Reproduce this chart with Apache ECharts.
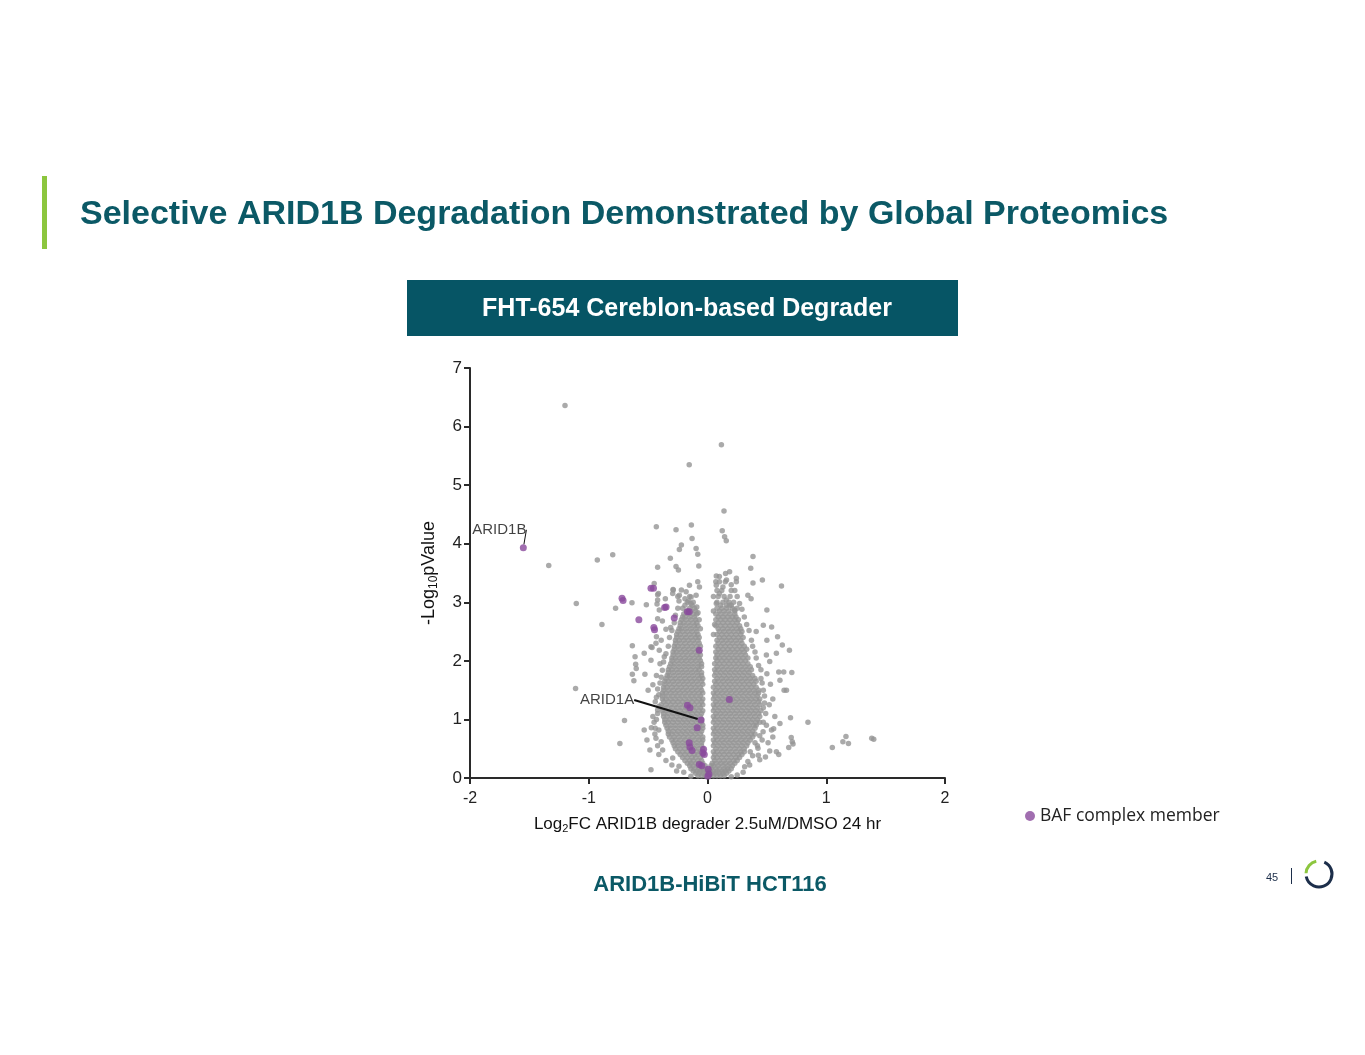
<!DOCTYPE html>
<html>
<head>
<meta charset="utf-8">
<title>Selective ARID1B Degradation</title>
<script src="https://cdn.jsdelivr.net/npm/echarts@6/dist/echarts.min.js"></script>
<style>
  html, body { margin: 0; padding: 0; background: #fff; }
  #main { width: 1365px; height: 1055px; }
</style>
</head>
<body>
<div id="main"></div>
<script>
// dense part of the volcano, read row by row: [y, x, x, ...]
var coreLeft = [
  [0.04, -0.08,-0.05,-0.02,0.00],
  [0.08, -0.10,-0.07,-0.04,-0.01],
  [0.12, -0.12,-0.09,-0.06,-0.03,0.00],
  [0.16, -0.14,-0.11,-0.07,-0.04,-0.01],
  [0.21, -0.15,-0.12,-0.08,-0.05,-0.02],
  [0.25, -0.17,-0.14,-0.10,-0.07,-0.04],
  [0.30, -0.19,-0.15,-0.12,-0.08,-0.05],
  [0.35, -0.21,-0.17,-0.13,-0.10,-0.06],
  [0.40, -0.23,-0.19,-0.15,-0.11,-0.08,-0.04],
  [0.45, -0.25,-0.21,-0.17,-0.13,-0.09,-0.06],
  [0.50, -0.27,-0.23,-0.19,-0.15,-0.11,-0.07,-0.04],
  [0.55, -0.28,-0.25,-0.21,-0.17,-0.13,-0.09,-0.05],
  [0.60, -0.29,-0.25,-0.21,-0.17,-0.13,-0.09,-0.05],
  [0.65, -0.30,-0.27,-0.23,-0.19,-0.15,-0.11,-0.07,-0.04],
  [0.70, -0.32,-0.28,-0.24,-0.20,-0.16,-0.12,-0.08,-0.04],
  [0.75, -0.33,-0.30,-0.26,-0.22,-0.18,-0.14,-0.10,-0.06],
  [0.80, -0.33,-0.29,-0.25,-0.21,-0.17,-0.13,-0.09,-0.05],
  [0.85, -0.34,-0.31,-0.27,-0.23,-0.19,-0.15,-0.11,-0.07,-0.04],
  [0.90, -0.35,-0.31,-0.27,-0.23,-0.19,-0.15,-0.11,-0.07,-0.04],
  [0.95, -0.36,-0.33,-0.29,-0.25,-0.21,-0.17,-0.13,-0.09,-0.05],
  [1.00, -0.36,-0.32,-0.28,-0.24,-0.20,-0.16,-0.12,-0.08,-0.05],
  [1.05, -0.37,-0.34,-0.30,-0.26,-0.22,-0.18,-0.14,-0.10,-0.06],
  [1.10, -0.37,-0.33,-0.29,-0.25,-0.21,-0.17,-0.13,-0.09,-0.05],
  [1.15, -0.38,-0.35,-0.31,-0.27,-0.23,-0.19,-0.15,-0.11,-0.07,-0.04],
  [1.20, -0.38,-0.34,-0.30,-0.26,-0.22,-0.18,-0.14,-0.10,-0.06],
  [1.25, -0.39,-0.35,-0.31,-0.27,-0.23,-0.19,-0.15,-0.11,-0.07,-0.04],
  [1.30, -0.37,-0.33,-0.29,-0.25,-0.21,-0.17,-0.13,-0.09,-0.05],
  [1.35, -0.38,-0.35,-0.31,-0.27,-0.23,-0.19,-0.15,-0.11,-0.07,-0.04],
  [1.40, -0.38,-0.34,-0.30,-0.26,-0.22,-0.18,-0.14,-0.10,-0.06],
  [1.45, -0.38,-0.35,-0.31,-0.27,-0.23,-0.19,-0.15,-0.11,-0.07,-0.04],
  [1.50, -0.37,-0.33,-0.29,-0.25,-0.21,-0.17,-0.13,-0.09,-0.05],
  [1.55, -0.37,-0.34,-0.30,-0.26,-0.22,-0.18,-0.14,-0.10,-0.06],
  [1.60, -0.36,-0.32,-0.28,-0.24,-0.20,-0.16,-0.12,-0.08,-0.04],
  [1.65, -0.36,-0.33,-0.29,-0.25,-0.21,-0.17,-0.13,-0.09,-0.05],
  [1.70, -0.35,-0.31,-0.27,-0.23,-0.19,-0.15,-0.11,-0.07,-0.04],
  [1.75, -0.34,-0.32,-0.28,-0.24,-0.20,-0.16,-0.12,-0.08,-0.05],
  [1.80, -0.33,-0.29,-0.25,-0.21,-0.17,-0.13,-0.09,-0.05],
  [1.85, -0.33,-0.30,-0.26,-0.22,-0.18,-0.14,-0.10,-0.07],
  [1.90, -0.32,-0.28,-0.24,-0.20,-0.16,-0.12,-0.08,-0.05],
  [1.95, -0.31,-0.28,-0.24,-0.20,-0.16,-0.12,-0.08,-0.05],
  [2.00, -0.30,-0.26,-0.22,-0.18,-0.14,-0.10,-0.06],
  [2.05, -0.30,-0.27,-0.23,-0.19,-0.15,-0.11,-0.07],
  [2.10, -0.29,-0.25,-0.21,-0.17,-0.13,-0.09,-0.06],
  [2.15, -0.29,-0.26,-0.22,-0.18,-0.14,-0.10,-0.07],
  [2.20, -0.28,-0.24,-0.20,-0.16,-0.12,-0.08],
  [2.25, -0.28,-0.25,-0.21,-0.17,-0.13,-0.09,-0.06],
  [2.30, -0.27,-0.23,-0.19,-0.15,-0.11,-0.07],
  [2.35, -0.27,-0.24,-0.20,-0.16,-0.12,-0.08],
  [2.40, -0.26,-0.22,-0.18,-0.14,-0.10,-0.07],
  [2.45, -0.26,-0.23,-0.19,-0.15,-0.11,-0.08],
  [2.50, -0.25,-0.21,-0.17,-0.13,-0.09],
  [2.55, -0.24,-0.22,-0.18,-0.14,-0.10],
  [2.60, -0.23,-0.19,-0.15,-0.11,-0.08],
  [2.65, -0.23,-0.20,-0.16,-0.12,-0.09],
  [2.70, -0.22,-0.18,-0.14,-0.10],
  [2.75, -0.21,-0.19,-0.15,-0.11],
  [2.80, -0.20,-0.16,-0.12,-0.09],
  [2.85, -0.18,-0.14,-0.10],
  [2.90, -0.21,-0.15,-0.11],
  [2.95, -0.19,-0.13],
  [3.00, -0.17,-0.12],
  [3.10, -0.25,-0.15]
];
var coreRight = [
  [0.04, 0.02,0.05,0.08,0.11,0.14],
  [0.08, 0.01,0.04,0.07,0.10,0.13,0.16],
  [0.12, 0.02,0.05,0.08,0.12,0.15,0.18],
  [0.16, 0.03,0.07,0.10,0.14,0.17,0.20],
  [0.21, 0.03,0.05,0.09,0.13,0.17,0.21],
  [0.25, 0.04,0.07,0.11,0.15,0.19,0.23],
  [0.30, 0.06,0.10,0.14,0.18,0.22,0.25],
  [0.35, 0.05,0.08,0.12,0.16,0.20,0.24,0.27],
  [0.40, 0.06,0.10,0.14,0.18,0.22,0.26,0.29],
  [0.45, 0.05,0.08,0.12,0.16,0.20,0.24,0.28,0.31],
  [0.50, 0.07,0.11,0.15,0.19,0.23,0.27,0.31],
  [0.55, 0.05,0.09,0.13,0.17,0.21,0.25,0.29,0.33],
  [0.60, 0.06,0.10,0.14,0.18,0.22,0.26,0.30,0.34],
  [0.65, 0.05,0.08,0.12,0.16,0.20,0.24,0.28,0.32,0.36],
  [0.70, 0.07,0.11,0.15,0.19,0.23,0.27,0.31,0.35,0.38],
  [0.75, 0.05,0.09,0.13,0.17,0.21,0.25,0.29,0.33,0.37,0.40],
  [0.80, 0.06,0.10,0.14,0.18,0.22,0.26,0.30,0.34,0.38],
  [0.85, 0.05,0.08,0.12,0.16,0.20,0.24,0.28,0.32,0.36,0.40],
  [0.90, 0.07,0.11,0.15,0.19,0.23,0.27,0.31,0.35,0.39,0.41],
  [0.95, 0.05,0.09,0.13,0.17,0.21,0.25,0.29,0.33,0.37,0.41,0.44],
  [1.00, 0.06,0.10,0.14,0.18,0.22,0.26,0.30,0.34,0.38,0.42],
  [1.05, 0.05,0.08,0.12,0.16,0.20,0.24,0.28,0.32,0.36,0.40,0.44],
  [1.10, 0.07,0.11,0.15,0.19,0.23,0.27,0.31,0.35,0.39,0.43],
  [1.15, 0.05,0.09,0.13,0.17,0.21,0.25,0.29,0.33,0.37,0.41,0.45],
  [1.20, 0.06,0.10,0.14,0.18,0.22,0.26,0.30,0.34,0.38,0.42],
  [1.25, 0.05,0.08,0.12,0.16,0.20,0.24,0.28,0.32,0.36,0.40,0.44],
  [1.30, 0.07,0.11,0.15,0.19,0.23,0.27,0.31,0.35,0.39,0.43],
  [1.35, 0.05,0.09,0.13,0.17,0.21,0.25,0.29,0.33,0.37,0.41,0.44],
  [1.40, 0.06,0.10,0.14,0.18,0.22,0.26,0.30,0.34,0.38,0.42],
  [1.45, 0.05,0.08,0.12,0.16,0.20,0.24,0.28,0.32,0.36,0.40,0.43],
  [1.50, 0.07,0.11,0.15,0.19,0.23,0.27,0.31,0.35,0.39,0.43],
  [1.55, 0.05,0.09,0.13,0.17,0.21,0.25,0.29,0.33,0.37,0.41],
  [1.60, 0.07,0.11,0.15,0.19,0.23,0.27,0.31,0.35,0.39],
  [1.65, 0.06,0.09,0.13,0.17,0.21,0.25,0.29,0.33,0.37,0.41],
  [1.70, 0.08,0.12,0.16,0.20,0.24,0.28,0.32,0.36,0.40],
  [1.75, 0.06,0.10,0.14,0.18,0.22,0.26,0.30,0.34,0.38],
  [1.80, 0.07,0.11,0.15,0.19,0.23,0.27,0.31,0.35],
  [1.85, 0.06,0.09,0.13,0.17,0.21,0.25,0.29,0.33,0.37],
  [1.90, 0.08,0.12,0.16,0.20,0.24,0.28,0.32,0.36],
  [1.95, 0.06,0.10,0.14,0.18,0.22,0.26,0.30,0.34],
  [2.00, 0.08,0.12,0.16,0.20,0.24,0.28,0.32],
  [2.05, 0.07,0.10,0.14,0.18,0.22,0.26,0.30,0.34],
  [2.10, 0.08,0.12,0.16,0.20,0.24,0.28,0.32],
  [2.15, 0.07,0.11,0.15,0.19,0.23,0.27,0.31],
  [2.20, 0.09,0.13,0.17,0.21,0.25,0.29,0.33],
  [2.25, 0.07,0.11,0.15,0.19,0.23,0.27,0.31],
  [2.30, 0.09,0.13,0.17,0.21,0.25,0.29],
  [2.35, 0.08,0.12,0.16,0.20,0.24,0.28],
  [2.40, 0.10,0.14,0.18,0.22,0.26,0.30],
  [2.45, 0.08,0.12,0.16,0.20,0.24,0.28],
  [2.50, 0.10,0.14,0.18,0.22,0.26,0.29],
  [2.55, 0.09,0.13,0.17,0.21,0.25,0.28],
  [2.60, 0.07,0.11,0.15,0.19,0.23,0.27],
  [2.65, 0.09,0.13,0.17,0.21,0.25],
  [2.70, 0.07,0.11,0.15,0.19,0.23,0.26],
  [2.75, 0.09,0.13,0.17,0.21,0.24],
  [2.80, 0.07,0.11,0.15,0.19,0.23],
  [2.85, 0.10,0.14,0.18,0.23],
  [2.90, 0.08,0.12,0.16,0.21,0.25],
  [2.95, 0.11,0.16,0.20],
  [3.00, 0.08,0.13,0.18,0.22],
  [3.10, 0.09,0.14,0.19],
  [3.20, 0.08,0.12,0.20],
  [3.35, 0.07,0.10,0.15]
];

// scattered proteins outside the dense core: [log2FC, -log10 p]
var sparsePoints = [
  [-1.20,6.36],[0.117,5.69],[-0.154,5.35],[0.139,4.56],
  [-1.337,3.63],[-0.928,3.72],[-0.798,3.81],[-1.105,2.98],[-0.889,2.62],[-1.111,1.53],
  [-0.699,0.98],[-0.738,0.59],[-0.476,0.14],
  [-0.431,4.29],[-0.136,4.32],[-0.265,4.24],[0.124,4.22],[0.144,4.12],[0.158,4.05],[-0.13,4.09],
  [-0.22,3.98],[-0.237,3.90],[-0.096,3.92],[-0.082,3.82],[-0.313,3.75],[-0.42,3.60],
  [-0.265,3.61],[-0.245,3.55],[-0.073,3.62],
  [0.383,3.78],[0.364,3.58],[0.462,3.38],[0.623,3.28],[0.383,3.33],[0.074,3.45],[0.10,3.44],
  [0.152,3.49],[0.186,3.52],[0.243,3.41],[0.243,3.35],[0.074,3.29],[0.13,3.26],
  [0.10,3.15],[0.158,3.04],[0.186,2.95],[0.074,2.98],[0.228,2.87],[0.34,3.12],[0.367,3.06],
  [0.50,2.87],[0.47,2.61],[0.54,2.58],[0.41,2.50],[0.50,2.35],[0.59,2.41],[0.69,2.18],
  [0.58,2.13],[0.63,2.27],[0.496,2.10],[0.524,1.99],[0.60,1.81],[0.71,1.80],[0.642,1.81],
  [0.645,1.50],[0.61,1.67],[0.665,1.50],[0.699,1.03],[0.846,0.95],[0.567,1.05],[0.496,0.90],
  [0.61,0.93],[0.705,0.69],[0.714,0.62],[0.72,0.58],[0.684,0.52],[0.557,0.84],[0.524,0.46],
  [0.428,0.39],[0.488,0.36],[0.60,0.40],[0.425,0.51],[0.58,0.45],[0.468,0.79],[0.539,0.82],
  [0.313,0.19],[0.355,0.22],[0.44,0.31],
  [1.051,0.52],[1.14,0.62],[1.166,0.71],[1.187,0.59],[1.383,0.68],[1.40,0.66],
  [-0.633,1.77],[-0.62,1.66],[-0.605,1.94],[-0.527,1.77],[-0.61,2.07],[-0.633,2.26],
  [-0.467,2.23],[-0.425,2.97],[-0.515,2.96],[-0.636,2.99],[-0.774,2.90],[-0.355,3.06],
  [-0.413,3.15],[-0.289,3.21],[-0.449,3.32],
  [-0.51,0.65],[-0.443,0.75],[-0.485,0.48],[-0.473,0.86],[-0.46,1.59],[-0.50,1.50],
  [-0.533,0.82],[-0.378,0.48],[-0.293,0.34],[-0.434,0.68],[-0.39,0.62],[-0.46,1.05],[-0.42,1.16],
  [-0.42,3.04],[-0.42,3.13],[-0.35,2.54],[-0.31,2.57],[-0.29,3.22],[-0.22,3.21],
  [-0.42,2.72],[-0.38,2.68],[-0.43,2.41],[-0.39,2.35],[-0.533,2.13],[-0.476,2.24],
  [-0.60,1.87],[-0.476,2.01],[-0.434,2.30],[-0.406,2.18],[-0.364,2.07],
  [-0.082,3.35],[-0.152,3.29],[-0.068,3.26],[-0.18,3.18],[-0.293,3.15],[-0.237,3.12],
  [-0.138,3.09],[-0.096,3.12],[-0.406,2.87],
  [-0.44,1.30],[-0.45,0.95],[-0.41,1.42],[-0.43,1.75],[-0.40,1.95],
  [0.47,1.20],[0.48,1.40],[0.46,1.62],[0.45,1.85],[0.41,2.05],[0.38,2.25],
  [0.36,0.45],[0.40,0.60],[0.44,0.72],[0.25,0.05],[0.20,0.02],[-0.14,0.03],[-0.20,0.10],[-0.24,0.20],
  // ragged edge of the dense cloud
  [-0.41,0.40],[-0.35,0.30],[-0.30,0.22],[-0.26,0.12],[-0.42,0.55],[-0.44,0.85],[-0.41,0.82],
  [-0.43,1.00],[-0.42,1.10],[-0.41,1.22],[-0.43,1.38],[-0.42,1.52],[-0.40,1.62],[-0.39,1.72],
  [-0.38,1.84],[-0.37,1.98],[-0.35,2.12],[-0.33,2.25],[-0.32,2.40],[-0.30,2.52],[-0.28,2.65],
  [-0.27,2.78],[-0.25,2.90],[-0.24,3.02],[-0.19,3.06],[-0.14,2.98],[-0.16,3.02],[-0.09,2.92],
  [-0.08,2.82],[-0.07,2.70],[-0.06,2.55],
  [0.30,0.10],[0.34,0.28],[0.38,0.38],[0.42,0.55],[0.46,0.65],[0.47,0.95],[0.49,1.10],
  [0.48,1.28],[0.47,1.50],[0.45,1.70],[0.43,1.92],[0.40,2.15],[0.37,2.35],[0.35,2.52],
  [0.33,2.62],[0.31,2.75],[0.29,2.88],[0.27,2.98],[0.25,3.10],[0.23,3.20],[0.20,3.30],
  [0.16,3.38],[0.05,3.10],[0.05,2.85],[0.06,2.62],[0.05,2.45],[0.52,1.25],[0.51,0.60],
  [0.55,1.35],[0.53,1.60],[0.50,1.78],[0.55,0.70]
];

// BAF complex members (first two are labelled)
var bafPoints = [
  [-1.551,3.93],[-0.054,0.99],
  [-0.476,3.24],[-0.455,3.24],[-0.72,3.07],[-0.711,3.03],[-0.578,2.70],[-0.361,2.91],
  [-0.349,2.92],[-0.452,2.57],[-0.446,2.53],[-0.28,2.73],[-0.169,2.84],[-0.154,2.84],
  [-0.069,2.18],[0.184,1.34],[-0.169,1.24],[-0.148,1.20],[-0.087,0.86],[-0.154,0.60],
  [-0.148,0.53],[-0.13,0.47],[-0.033,0.49],[-0.027,0.40],[-0.039,0.43],[-0.069,0.23],
  [-0.048,0.21],[0.006,0.15],[0.012,0.07],[0.003,0.03]
];
var bafNames = ['ARID1B', 'ARID1A'];
var labelShift = [[-24, -18], [-94, -20]];

var xTicks = [-2, 2, 1];   // min, max, interval
var yTicks = [0, 7, 1];

function rowsToPoints(rows) {
  var pts = [];
  rows.forEach(function (r) {
    for (var i = 1; i < r.length; i++) pts.push([r[i], r[0]]);
  });
  return pts;
}

var grayData = rowsToPoints(coreLeft).concat(rowsToPoints(coreRight)).concat(sparsePoints);

var bafData = bafPoints.map(function (p, i) {
  if (i < bafNames.length) {
    return {
      value: p,
      label: { show: true, formatter: bafNames[i] },
      labelLine: { show: true, lineStyle: { color: '#111', width: i === 1 ? 2 : 1 } }
    };
  }
  return p;
});

var FONT = '"Liberation Sans", Arial, sans-serif';
var TEAL = '#0b5966';

var chart = echarts.init(document.getElementById('main'));
var option = {
  backgroundColor: '#ffffff',
  animation: false,
  title: [
    {
      text: 'Selective ARID1B Degradation Demonstrated by Global Proteomics',
      left: 75, top: 193,
      textStyle: { fontFamily: FONT, fontSize: 34, fontWeight: 'bold', color: TEAL }
    },
    {
      text: 'FHT-654 Cereblon-based Degrader',
      left: 682, top: 292, textAlign: 'center',
      textStyle: { fontFamily: FONT, fontSize: 25, fontWeight: 'bold', color: '#ffffff' }
    },
    {
      text: 'ARID1B-HiBiT HCT116',
      left: 705, top: 869, textAlign: 'center',
      textStyle: { fontFamily: FONT, fontSize: 22, fontWeight: 'bold', color: TEAL }
    },
    {
      text: '45',
      left: 1261, top: 867,
      textStyle: { fontFamily: FONT, fontSize: 11, fontWeight: 'normal', color: '#1c2e4a' }
    }
  ],
  graphic: [
    { type: 'rect', shape: { x: 42, y: 176, width: 5, height: 73 }, style: { fill: '#8cc63e' } },
    { type: 'rect', shape: { x: 407, y: 280, width: 551, height: 56 }, style: { fill: '#065565' }, z: -1 },
    { type: 'rect', shape: { x: 1291, y: 868, width: 1, height: 16 }, style: { fill: '#1c2e4a' } },
    { type: 'arc', shape: { cx: 1319, cy: 874, r: 13, startAngle: -1.15, endAngle: 2.95 },
      style: { stroke: '#1c2e4a', lineWidth: 3, fill: null } },
    { type: 'arc', shape: { cx: 1319, cy: 874, r: 13, startAngle: 3.2, endAngle: 4.5 },
      style: { stroke: '#8cc63e', lineWidth: 3, fill: null } }
  ],
  legend: {
    data: ['BAF complex member'],
    left: 1020, top: 802,
    icon: 'circle',
    itemWidth: 10, itemHeight: 10, itemGap: 4,
    textStyle: { fontFamily: '"Open Sans", sans-serif', fontSize: 17.5, color: '#222' }
  },
  grid: { left: 470, right: 420, top: 368, bottom: 277 },
  xAxis: {
    type: 'value',
    min: xTicks[0], max: xTicks[1], interval: xTicks[2],
    name: '{m|Log}{s|2}{m|FC ARID1B degrader 2.5uM/DMSO 24 hr}',
    nameLocation: 'middle', nameGap: 36,
    nameTextStyle: {
      rich: {
        m: { fontFamily: FONT, fontSize: 17, color: '#111', lineHeight: 20 },
        s: { fontFamily: FONT, fontSize: 11, color: '#111', verticalAlign: 'bottom', lineHeight: 14 }
      }
    },
    axisLine: { onZero: false, lineStyle: { color: '#2a2a2a', width: 2 } },
    axisTick: { length: 6, lineStyle: { color: '#2a2a2a', width: 2 } },
    axisLabel: { fontFamily: FONT, fontSize: 16, color: '#222', margin: 13 },
    splitLine: { show: false }
  },
  yAxis: {
    type: 'value',
    min: yTicks[0], max: yTicks[1], interval: yTicks[2],
    name: '{m|-Log}{s|10}{m|pValue}',
    nameLocation: 'middle', nameGap: 30, nameRotate: 90,
    nameTextStyle: {
      rich: {
        m: { fontFamily: FONT, fontSize: 18, color: '#111', lineHeight: 22 },
        s: { fontFamily: FONT, fontSize: 12, color: '#111', verticalAlign: 'bottom', lineHeight: 16 }
      }
    },
    axisLine: { show: true, onZero: false, lineStyle: { color: '#2a2a2a', width: 2 } },
    axisTick: { show: true, length: 6, lineStyle: { color: '#2a2a2a', width: 2 } },
    axisLabel: { fontFamily: FONT, fontSize: 17, color: '#222', margin: 8 },
    splitLine: { show: false }
  },
  series: [
    {
      name: 'All proteins',
      type: 'scatter',
      data: grayData,
      symbolSize: 5.5,
      itemStyle: { color: '#959595' },
      silent: true
    },
    {
      name: 'BAF complex member',
      type: 'scatter',
      data: bafData,
      symbolSize: 7,
      itemStyle: { color: '#8a4a9c' },
      label: {
        show: false, position: 'inside',
        fontFamily: FONT, fontSize: 15, color: '#111'
      },
      labelLayout: function (params) {
        var s = labelShift[params.dataIndex];
        return s ? { dx: s[0], dy: s[1] } : {};
      },
      z: 3
    }
  ]
};
chart.setOption(option);
</script>
</body>
</html>
